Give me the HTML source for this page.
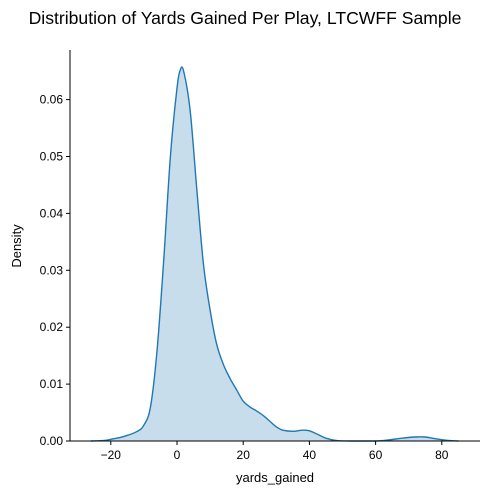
<!DOCTYPE html>
<html><head><meta charset="utf-8"><style>
body{margin:0;background:#fff;}
svg text{font-family:"Liberation Sans","DejaVu Sans",sans-serif;fill:#000;}
</style></head><body>
<svg id="chart" width="490" height="495" viewBox="0 0 490 495" xmlns="http://www.w3.org/2000/svg">
<text x="245" y="24" text-anchor="middle" font-size="17.6">Distribution of Yards Gained Per Play, LTCWFF Sample</text>
<g id="plot"></g>
<text x="275" y="482" text-anchor="middle" font-size="13">yards_gained</text>
<text transform="translate(21,246) rotate(-90)" text-anchor="middle" font-size="13">Density</text>
</svg>
<script>
const xs=[-26,-22,-20,-16,-12,-10,-8,-6,-4,-2,0,1,2,4,6,8,10,12,14,16,18,20,22,24,26,28,30,32,35,38,40,42,45,48,52,60,64,68,72,75,78,82,85];
const ys=[0,0.0001,0.0003,0.0008,0.0017,0.0028,0.006,0.016,0.032,0.050,0.062,0.0652,0.065,0.058,0.044,0.031,0.023,0.017,0.0135,0.011,0.009,0.007,0.006,0.0053,0.0045,0.0035,0.0025,0.0019,0.0017,0.0019,0.0018,0.0013,0.0005,0.0001,0,0,0.0002,0.0005,0.0007,0.0007,0.0004,0.0001,0];
const xTicks=[-20,0,20,40,60,80];
const yTicks=[0,0.01,0.02,0.03,0.04,0.05,0.06];
const yTickLabels=["0.00","0.01","0.02","0.03","0.04","0.05","0.06"];
const X=v=>177+v*3.31, Y=v=>441-v*5690;
const NS="http://www.w3.org/2000/svg",g=document.getElementById('plot');
function mk(t,a){const e=document.createElementNS(NS,t);for(const k in a)e.setAttribute(k,a[k]);g.appendChild(e);return e;}
const P=xs.map((x,i)=>[X(x),Y(ys[i])]);
let d='M'+P[0][0].toFixed(1)+','+P[0][1].toFixed(1);
for(let i=0;i<P.length-1;i++){const p0=P[Math.max(0,i-1)],p1=P[i],p2=P[i+1],p3=P[Math.min(P.length-1,i+2)];
let c1y=p1[1]+(p2[1]-p0[1])/6, c2y=p2[1]-(p3[1]-p1[1])/6;
c1y=Math.min(c1y,441);c2y=Math.min(c2y,441);
d+='C'+(p1[0]+(p2[0]-p0[0])/6).toFixed(1)+','+c1y.toFixed(1)+' '+(p2[0]-(p3[0]-p1[0])/6).toFixed(1)+','+c2y.toFixed(1)+' '+p2[0].toFixed(1)+','+p2[1].toFixed(1);}
const area=mk('path',{d:d+'L'+X(xs[xs.length-1])+','+Y(0)+'L'+X(xs[0])+','+Y(0)+'Z',fill:'#1f77b4','fill-opacity':'0.25',stroke:'none'});

const line=mk('path',{d:d,fill:'none',stroke:'#1f77b4','stroke-width':'1.4'});

const ax=mk('path',{d:'M70,50V441H480',fill:'none',stroke:'#000','stroke-width':'1'});

xTicks.forEach(v=>{const t=mk('line',{x1:X(v),x2:X(v),y1:441,y2:445,stroke:'#000'});
const l=mk('text',{x:X(v),y:459,'text-anchor':'middle','font-size':'12'});l.textContent='\u2212'.repeat(v<0?1:0)+Math.abs(v);});
yTicks.forEach((v,i)=>{const t=mk('line',{x1:66,x2:70,y1:Y(v),y2:Y(v),stroke:'#000'});
const l=mk('text',{x:63,y:Y(v)+4,'text-anchor':'end','font-size':'12'});l.textContent=yTickLabels[i];});
</script>
</body></html>
